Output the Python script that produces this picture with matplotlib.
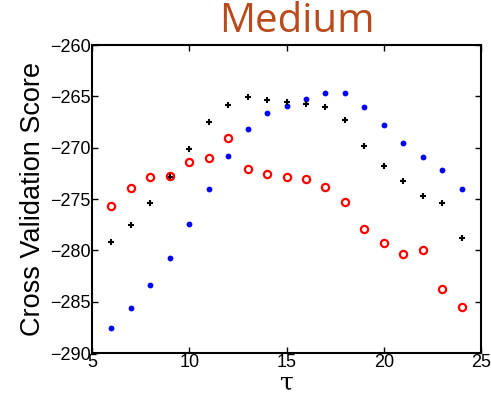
import matplotlib
matplotlib.use('Agg')
import matplotlib.pyplot as plt
import numpy as np

tau = [6, 7, 8, 9, 10, 11, 12, 13, 14, 15, 16, 17, 18, 19, 20, 21, 22, 23, 24]

# blue dots
score_blue = [-287.6, -285.6, -283.4, -280.7, -277.4, -274.0, -270.8, -268.2, -266.6, -265.9,
              -265.3, -264.7, -264.7, -266.0, -267.8, -269.5, -270.9, -272.2, -274.0]
# black plus
score_black = [-279.2, -277.5, -275.4, -272.9, -270.1, -267.5, -265.8, -265.1, -265.4, -265.6,
               -265.7, -266.0, -267.3, -269.8, -271.8, -273.2, -274.7, -275.4, -278.8]
# red circles
score_red = [-275.7, -273.9, -272.9, -272.8, -271.4, -271.0, -269.1, -272.1, -272.6, -272.9,
             -273.1, -273.8, -275.3, -277.9, -279.3, -280.4, -280.0, -283.8, -285.5]

plt.rcParams['font.family'] = ['Liberation Sans', 'DejaVu Sans']

fig = plt.figure(figsize=(4.91, 4.03), dpi=100)
ax = fig.add_axes([92/491, 1-353/403, (481-92)/491, (353-45)/403])

ax.plot(tau, score_blue, 'o', color='blue', markersize=4.2, markeredgewidth=0)
ax.plot(tau, score_black, '+', color='black', markersize=5, markeredgewidth=1.5)
ax.plot(tau, score_red, 'o', color='red', markersize=5.2, markerfacecolor='none', markeredgewidth=1.6)

ax.set_xlim(5, 25)
ax.set_ylim(-290, -260)
ax.set_xticks([5, 10, 15, 20, 25])
ax.set_yticks(np.arange(-290, -259, 5))
ax.tick_params(direction='in', top=True, right=True, labelsize=13, length=4, width=1, pad=1)
for s in ax.spines.values():
    s.set_linewidth(1.5)

ax.set_xlabel('τ', fontsize=18, family=['DejaVu Serif'], labelpad=0)
ax.set_ylabel('Cross Validation Score', fontsize=19.5, labelpad=3)

fig.text(297/491, 1-22/403, 'Medium', fontsize=29, color='#B94A1B',
         family=['Open Sans', 'DejaVu Sans'], ha='center', va='center')

fig.savefig('out.png', dpi=100)
